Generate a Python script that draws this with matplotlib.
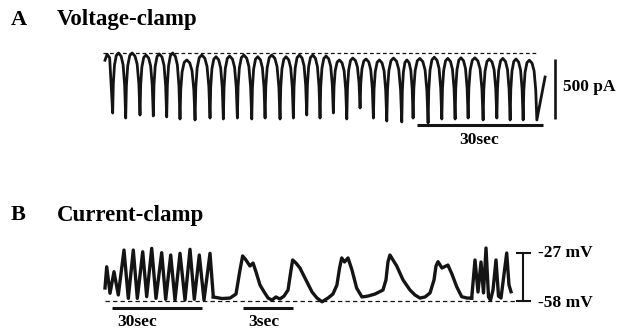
import matplotlib.pyplot as plt

W, H = 620, 329

# ---------------- panel A: voltage-clamp current (pA) vs time (s) ----------------
a_trough_t = [1.82, 4.90, 8.29, 11.44, 14.61, 17.76, 21.32, 24.87, 28.02, 31.34,
              34.75, 37.90, 41.45, 44.60, 47.77, 50.92, 54.07, 57.25, 60.40, 63.55,
              66.72, 70.27, 72.95, 76.50, 79.75, 82.90, 85.98, 89.53, 92.78, 95.93,
              99.01, 102.25]
a_trough_i = [-500, -542, -517, -525, -533, -550, -558, -542, -550, -542,
              -550, -542, -550, -542, -517, -542, -500, -550, -458, -542,
              -567, -575, -542, -583, -550, -550, -542, -558, -542, -558,
              -558, -558]
# top of each cycle, between trough k and trough k+1
a_peak_i = [0, 0, -17, -8, 0, -58, -17, -31, -25, -17,
            -31, -17, -31, -17, -17, -25, -58, -42, -50, -58,
            -42, -58, -45, -35, -45, -40, -40, -50, -45, -50, -60]
a_start_t = [0.0, 0.5, 1.1]
a_start_i = [-60.0, -10.0, -40.0]
a_end = (104.2, -200.0)

# ---------------- panel B: current-clamp voltage (mV) ----------------
# fast part at the start (30 s scale)
b_fast1_t = [0, 0.57, 1.67, 3.0, 4.43, 6.33, 7.77, 9.43, 10.77, 12.57, 13.9, 15.57,
             17.0, 18.9, 20.23, 21.9, 23.33, 25.0, 26.67, 28.33, 29.77, 31.43,
             33.0, 35.0, 36.1]
b_fast1_v = [-49.6, -35.9, -53.0, -39.1, -54.1, -25.1, -56.3, -25.1, -56.3, -26.2,
             -55.2, -24.0, -56.3, -26.8, -56.9, -28.3, -57.4, -27.2, -57.4, -24.6,
             -56.9, -28.3, -57.4, -27.2, -55.2]
# expanded part (3 s scale)
b_slow_t = [0, 0.525, 1.01, 1.37, 1.61, 1.77, 1.97, 2.21, 2.40, 2.58, 2.82, 3.07,
            3.31, 3.54, 3.78, 4.02, 4.27, 4.51, 4.69, 4.79, 4.99, 5.23, 5.59, 5.96,
            6.26, 6.56, 6.92, 7.22, 7.46, 7.62, 7.75, 7.92, 8.13, 8.37, 8.65, 8.97,
            9.34, 9.76, 10.24, 10.42, 10.54, 10.66, 11.07, 11.45, 11.87, 12.17,
            12.47, 12.78, 13.08, 13.32, 13.44, 13.56, 13.80, 14.04, 14.16, 14.40,
            14.69, 14.99, 15.31, 15.59]
b_slow_v = [-55.4, -56.4, -56.1, -53.5, -38.0, -28.9, -31.5, -35.4, -33.5, -39.3,
            -47.7, -52.2, -56.1, -57.4, -55.4, -56.7, -54.8, -50.9, -38.0, -31.5,
            -33.5, -36.7, -44.4, -52.2, -56.1, -58.5, -56.1, -53.5, -47.7, -36.7,
            -30.2, -32.8, -30.2, -38.0, -49.6, -55.4, -54.8, -53.5, -50.9, -44.4,
            -32.8, -28.3, -35.4, -44.4, -50.9, -54.1, -56.1, -55.4, -52.8, -44.4,
            -35.4, -32.6, -36.7, -35.4, -34.8, -40.6, -48.8, -55.2, -56.1, -56.1]
# fast part at the end (30 s scale)
b_fast2_t = [0, 1.1, 2.1, 3.1, 3.93, 4.77, 5.6, 6.27, 7.1, 8.1, 8.93, 9.77, 11.67,
             12.43, 13.1]
b_fast2_v = [-56.1, -31.5, -52.2, -32.8, -52.8, -23.8, -55.4, -57.4, -50.9, -31.5,
             -54.8, -56.1, -27.0, -47.7, -52.0]

# ---------------- layout (pixels of the 620x329 picture) ----------------
A_X0, A_Y0 = 105, 53            # px of t=0 s and I=0 pA
A_PX_S, A_PX_PA = 126.7 / 30, 60 / 500
B_Y0, B_PX_MV = 301, 48 / 31    # px of -58 mV
B_PX_S_FAST, B_PX_S_SLOW = 3.0, 16.57

# shape of one inward current cycle: (fraction of period, fraction of depth)
CYCLE_SHAPE = [(0.05, 0.5), (0.14, 0.2), (0.28, 0.04), (0.45, 0.0),
               (0.65, 0.05), (0.8, 0.18), (0.92, 0.5)]

plt.rcParams['font.family'] = ['Liberation Serif', 'DejaVu Serif']
fig = plt.figure(figsize=(W / 100, H / 100), dpi=100)


def px_axes(x0, x1, y0, y1):
    ax = fig.add_axes([x0 / W, 1 - y1 / H, (x1 - x0) / W, (y1 - y0) / H])
    ax.set_axis_off()
    return ax


def ftext(x, y, s, size=13, ha='left'):
    fig.text(x / W, 1 - y / H, s, fontsize=size, fontweight='bold',
             ha=ha, va='center')


ink = '#141414'

# ---- A ----
axA = px_axes(100, 620, 35, 150)
axA.set_xlim((100 - A_X0) / A_PX_S, (620 - A_X0) / A_PX_S)
axA.set_ylim((A_Y0 - 150) / A_PX_PA, (A_Y0 - 35) / A_PX_PA)

xs, ys = list(a_start_t), list(a_start_i)
for k in range(len(a_trough_t)):
    xs.append(a_trough_t[k])
    ys.append(a_trough_i[k])
    if k < len(a_peak_i):
        t0, p = a_trough_t[k], a_trough_t[k + 1] - a_trough_t[k]
        top = a_peak_i[k]
        for f, d in CYCLE_SHAPE:
            low = a_trough_i[k] if f < 0.45 else a_trough_i[k + 1]
            xs.append(t0 + f * p)
            ys.append(top + d * (low - top))
xs.append(a_end[0])
ys.append(a_end[1])
axA.plot(xs, ys, color=ink, lw=2.0, solid_joinstyle='round', clip_on=False)
axA.plot([-0.5, 102.5], [0, 0], color=ink, lw=0.9, ls=(0, (3, 2.2)))
# scale bars
axA.plot([106.6, 106.6], [-50, -550], color=ink, lw=1.9, solid_capstyle='butt')
axA.plot([73.8, 103.8], [-600, -600], color=ink, lw=2.2, solid_capstyle='butt')

# ---- B ----
b_ylim = (-58 - (329 - B_Y0) / B_PX_MV, -58 + (B_Y0 - 230) / B_PX_MV)

axB = px_axes(100, 620, 230, 329)
axB.set_xlim(100, 620)
axB.set_ylim(*b_ylim)
axB.plot([105, 518], [-58, -58], color=ink, lw=0.9, ls=(0, (3.5, 2.5)))
axB.plot([523.3, 523.3], [-58, -27], color=ink, lw=1.5)
for v in (-58, -27):
    axB.plot([517, 530], [v, v], color=ink, lw=1.5)

segs = [(105, 213.3, B_PX_S_FAST, b_fast1_t, b_fast1_v),
        (213.3, 471.7, B_PX_S_SLOW, b_slow_t, b_slow_v),
        (471.7, 520, B_PX_S_FAST, b_fast2_t, b_fast2_v)]
seg_axes = []
for x0, x1, pxs, t, v in segs:
    ax = px_axes(x0, x1, 230, 329)
    ax.set_xlim(0, (x1 - x0) / pxs)
    ax.set_ylim(*b_ylim)
    ax.plot(t, v, color=ink, lw=2.4, solid_joinstyle='round', clip_on=False)
    seg_axes.append(ax)

bar_v = -58 - 7 / B_PX_MV
seg_axes[0].plot([2.2, 32.2], [bar_v, bar_v], color=ink, lw=2.2, solid_capstyle='butt')
seg_axes[1].plot([1.79, 4.79], [bar_v, bar_v], color=ink, lw=2.2, solid_capstyle='butt')

# ---- text ----
ftext(11, 20, 'A', 16)
ftext(57, 20, 'Voltage-clamp', 16.5)
ftext(11, 215, 'B', 16)
ftext(57, 215, 'Current-clamp', 16.5)
ftext(563, 87, '500 pA', 12.5)
ftext(479, 140, '30sec', 12.5, ha='center')
ftext(137, 322, '30sec', 12.5, ha='center')
ftext(264, 322, '3sec', 12.5, ha='center')
ftext(538, 253, '-27 mV', 12.5)
ftext(538, 303, '-58 mV', 12.5)

fig.savefig('out.png', dpi=100)
